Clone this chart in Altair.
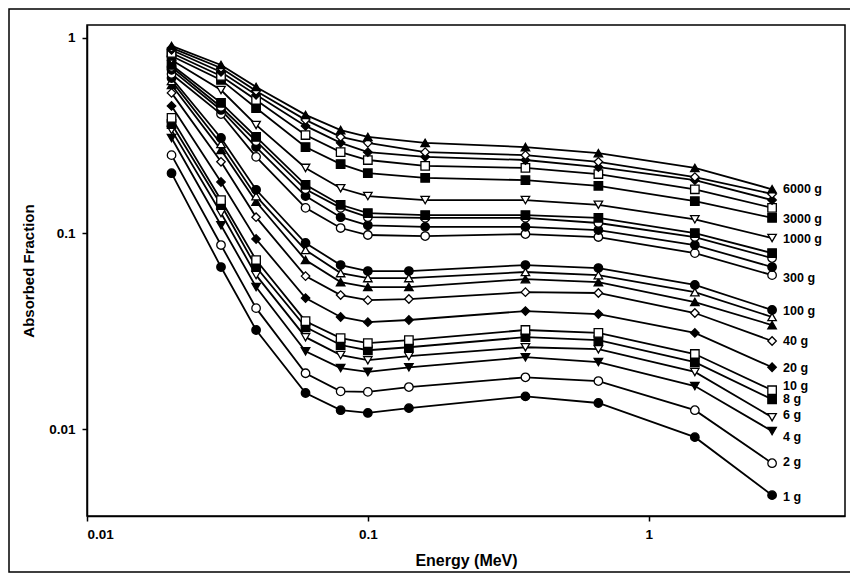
import altair as alt
import pandas as pd

# Energies (MeV) of the computed points
energies_small = [0.02, 0.03, 0.04, 0.06, 0.08, 0.1, 0.14, 0.364, 0.662, 1.46, 2.75]
energies_large = [0.02, 0.03, 0.04, 0.06, 0.08, 0.1, 0.16, 0.364, 0.662, 1.46, 2.75]

# Absorbed fractions per sphere mass
af_1g = [0.203, 0.0673, 0.0321, 0.0153, 0.0125, 0.0121, 0.0128, 0.0147, 0.0136, 0.0091, 0.0046]
af_2g = [0.251, 0.0872, 0.0415, 0.0193, 0.0156, 0.0155, 0.0164, 0.0184, 0.0176, 0.0125, 0.0067]
af_4g = [0.307, 0.110, 0.0532, 0.0250, 0.0205, 0.0196, 0.0207, 0.0233, 0.0220, 0.0166, 0.00977]
af_6g = [0.337, 0.127, 0.0612, 0.0295, 0.0239, 0.0225, 0.0236, 0.0262, 0.0256, 0.0196, 0.0115]
af_8g = [0.362, 0.140, 0.0673, 0.0332, 0.0269, 0.0253, 0.0262, 0.0295, 0.0285, 0.0220, 0.0142]
af_10g = [0.389, 0.148, 0.0731, 0.0356, 0.0292, 0.0275, 0.0285, 0.0321, 0.0310, 0.0242, 0.0158]
af_20g = [0.448, 0.183, 0.0936, 0.0467, 0.0374, 0.0352, 0.0361, 0.0401, 0.0387, 0.0310, 0.0207]
af_40g = [0.522, 0.232, 0.121, 0.0605, 0.0484, 0.0456, 0.0462, 0.0501, 0.0496, 0.0392, 0.0282]
af_60g = [0.573, 0.267, 0.145, 0.0731, 0.0564, 0.0532, 0.0532, 0.0584, 0.0564, 0.0446, 0.0340]
af_80g = [0.601, 0.286, 0.155, 0.0822, 0.0627, 0.0591, 0.0591, 0.0635, 0.0612, 0.0501, 0.0374]
af_100g = [0.622, 0.307, 0.167, 0.0893, 0.0689, 0.0642, 0.0642, 0.0689, 0.0665, 0.0545, 0.0406]
af_300g = [0.652, 0.407, 0.246, 0.135, 0.1065, 0.0981, 0.0969, 0.0992, 0.0958, 0.0793, 0.0612]
af_400g = [0.684, 0.427, 0.276, 0.155, 0.121, 0.110, 0.108, 0.108, 0.104, 0.0872, 0.0673]
af_600g = [0.708, 0.442, 0.296, 0.168, 0.135, 0.121, 0.120, 0.120, 0.113, 0.0958, 0.0748]
af_800g = [0.725, 0.464, 0.311, 0.177, 0.140, 0.127, 0.124, 0.124, 0.120, 0.1004, 0.0793]
af_1000g = [0.769, 0.540, 0.358, 0.216, 0.170, 0.155, 0.148, 0.148, 0.140, 0.118, 0.0947]
af_3000g = [0.806, 0.608, 0.437, 0.276, 0.226, 0.203, 0.192, 0.187, 0.175, 0.146, 0.120]
af_3500g = [0.835, 0.637, 0.480, 0.318, 0.260, 0.237, 0.221, 0.216, 0.201, 0.168, 0.135]
af_4000g = [0.865, 0.668, 0.510, 0.354, 0.290, 0.260, 0.246, 0.237, 0.218, 0.187, 0.148]
af_5000g = [0.886, 0.700, 0.534, 0.380, 0.311, 0.290, 0.260, 0.251, 0.232, 0.194, 0.159]
af_6000g = [0.907, 0.725, 0.560, 0.403, 0.337, 0.311, 0.290, 0.276, 0.257, 0.216, 0.168]

series_names = ["1 g", "2 g", "4 g", "6 g", "8 g", "10 g", "20 g", "40 g", "60 g", "80 g",
                "100 g", "300 g", "400 g", "600 g", "800 g", "1000 g",
                "3000 g", "3500 g", "4000 g", "5000 g", "6000 g"]
series_values = [af_1g, af_2g, af_4g, af_6g, af_8g, af_10g, af_20g, af_40g, af_60g, af_80g,
                 af_100g, af_300g, af_400g, af_600g, af_800g, af_1000g,
                 af_3000g, af_3500g, af_4000g, af_5000g, af_6000g]
series_shapes = ["circle", "circle", "triangle-down", "triangle-down", "square", "square",
                 "diamond", "diamond", "triangle-up", "triangle-up",
                 "circle", "circle", "circle", "circle", "square", "triangle-down",
                 "square", "square", "diamond", "diamond", "triangle-up"]
series_fills = ["black", "white", "black", "white", "black", "white",
                "black", "white", "black", "white",
                "black", "white", "black", "white", "black", "white",
                "black", "white", "black", "white", "black"]

# End labels
label_texts = ["6000 g", "3000 g", "1000 g", "300 g", "100 g", "40 g", "20 g",
               "10 g", "8 g", "6 g", "4 g", "2 g", "1 g"]
label_values = [0.168, 0.118, 0.0936, 0.0591, 0.0401, 0.0282, 0.0205,
                0.0166, 0.0142, 0.0118, 0.0091, 0.0068, 0.0045]
label_energy = 2.75

rows = []
for name, vals in zip(series_names, series_values):
    mass = float(name.split()[0])
    ens = energies_small if mass <= 100 else energies_large
    for e, v in zip(ens, vals):
        rows.append({"series": name, "energy": e, "af": v})
df = pd.DataFrame(rows)

labels_df = pd.DataFrame({"text": label_texts, "af": label_values,
                          "energy": [label_energy] * len(label_texts)})

FONT = "Liberation Sans"

x_enc = alt.X("energy:Q",
              scale=alt.Scale(type="log", domain=[0.01, 5], nice=False),
              axis=alt.Axis(values=[0.01, 0.1, 1], format="~g", title="Energy (MeV)",
                            grid=False, tickSize=5, labelPadding=6, titlePadding=12,
                            titleFontSize=16))
y_enc = alt.Y("af:Q",
              scale=alt.Scale(type="log", domain=[0.0036, 1.16], nice=False),
              axis=alt.Axis(values=[0.01, 0.1, 1], format="~g", title="Absorbed Fraction",
                            grid=False, tickSize=5, labelPadding=7, titlePadding=12,
                            titleFontSize=15))

lines = alt.Chart(df).mark_line(color="black", strokeWidth=1.8).encode(
    x=x_enc, y=y_enc, detail="series:N"
)

points = alt.Chart(df).mark_point(filled=True, stroke="black", strokeWidth=1.3,
                                  opacity=1, size=72).encode(
    x=x_enc, y=y_enc,
    shape=alt.Shape("series:N", scale=alt.Scale(domain=series_names, range=series_shapes),
                    legend=None),
    fill=alt.Fill("series:N", scale=alt.Scale(domain=series_names, range=series_fills),
                  legend=None),
)

labels = alt.Chart(labels_df).mark_text(align="left", baseline="middle", dx=11,
                                        font=FONT, fontSize=12.5, fontWeight="bold",
                                        color="black").encode(
    x=x_enc, y=y_enc, text="text:N"
)

frame = alt.Chart(pd.DataFrame({"a": [0]})).mark_rect(
    fillOpacity=0, stroke="black", strokeWidth=1.5
).encode(x=alt.value(-78), x2=alt.value(900), y=alt.value(-16), y2=alt.value(547))

chart = alt.layer(frame, lines, points, labels).properties(
    width=758, height=491,
    padding={"left": 79, "top": 17, "right": 5, "bottom": 58},
    autosize=alt.AutoSizeParams(type="none"),
    background="white",
).configure_view(
    stroke="black", strokeWidth=1.5
).configure_axis(
    domainColor="black", domainWidth=1.5, tickColor="black", tickWidth=1.5,
    labelFont=FONT, labelFontSize=13.5, labelFontWeight="bold", labelColor="black",
    titleFont=FONT, titleFontWeight="bold", titleColor="black",
)

chart.save("out.html", embed_options={"renderer": "svg", "actions": False})
